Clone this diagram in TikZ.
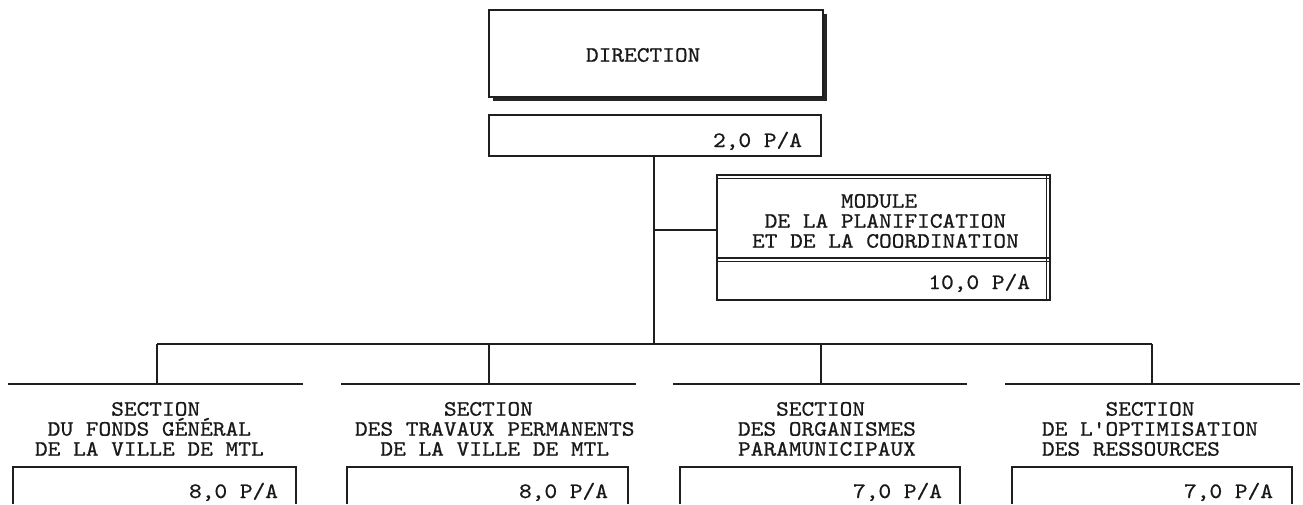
\documentclass[tikz,border=0pt]{standalone}
\usepackage{fontspec}
\newfontfamily\tw{lmmono10-regular}[Extension=.otf,FakeStretch=1.1,FakeBold=0.7]
\usetikzlibrary{shadows}
\begin{document}
\begin{tikzpicture}[x=1pt,y=-1pt,
  ink/.style={draw=black!88,line width=1.4pt},
  txt/.style={inner sep=0pt,outer sep=0pt,text=black!90,font=\tw\fontsize{22}{20}\selectfont},
  boxnode/.style={ink,fill=white,inner sep=0pt,outer sep=0pt,rectangle},
  secline/.style={draw=black!88,line width=2.4pt},
  conn/.style={draw=black!88,line width=1.4pt}]
\useasboundingbox (0,0) rectangle (1303,504);
\fill[white] (0,0) rectangle (1303,504);
% Direction
\node[boxnode,minimum width=334pt,minimum height=87pt,
  drop shadow={shadow xshift=4pt,shadow yshift=-4pt,fill=black!85,opacity=1}] (dir) at (656,53.5) {};
\node[txt,anchor=west] (dirt) at (586,55) {DIRECTION};
\node[boxnode,minimum width=332pt,minimum height=41pt] (dirv) at (655,135.5) {};
\node[txt,anchor=base east] (dirvt) at (802,147) {2,0 P/A};
% Module
\node[boxnode,minimum width=333pt,minimum height=125pt] (mod) at (883.5,237.5) {};
\draw[ink] (717,178.5) -- (1050,178.5);
\draw[ink] (717,175) -- (1050,175);
\draw[ink] (717,258) -- (1050,258);
\draw[ink] (717,261.5) -- (1050,261.5);
\draw[ink] (1046.5,175) -- (1046.5,300);
\node[txt,anchor=north west,align=left] (modt) at (752,194)
  {\hphantom{0000000}MODULE\\\hphantom{0}DE LA PLANIFICATION\\ET DE LA COORDINATION};
\node[txt,anchor=base east] (modv) at (1030,289) {10,0 P/A};
% trunk and bar
\coordinate (tk) at (654,344);
\coordinate (mb) at (717,230);
\draw[conn] (dirv.south -| tk) -- (tk);
\draw[conn] (tk |- mb) -- (mb);
\coordinate (b1) at (157,344);
\coordinate (b2) at (489,344);
\coordinate (b3) at (821,344);
\coordinate (b4) at (1152,344);
\draw[conn] (b1) -- (b4);
\coordinate (l1) at (157,384);
\coordinate (l2) at (489,384);
\coordinate (l3) at (821,384);
\coordinate (l4) at (1152,384);
\draw[conn] (b1) -- (l1);
\draw[conn] (b2) -- (l2);
\draw[conn] (b3) -- (l3);
\draw[conn] (b4) -- (l4);
\draw[secline] (8,384) -- (303,384);
\draw[secline] (341,384) -- (636,384);
\draw[secline] (673,384) -- (967,384);
\draw[secline] (1005,384) -- (1300,384);
% section titles
\node[txt,anchor=north west,align=left] (s1) at (35,402)
  {\hphantom{000000}SECTION\\\hphantom{0}DU FONDS GÉNÉRAL\\DE LA VILLE DE MTL};
\node[txt,anchor=north west,align=left] (s2) at (355,402)
  {\hphantom{0000000}SECTION\\DES TRAVAUX PERMANENTS\\\hphantom{00}DE LA VILLE DE MTL};
\node[txt,anchor=north west,align=left] (s3) at (738,402)
  {\hphantom{000}SECTION\\DES ORGANISMES\\PARAMUNICIPAUX};
\node[txt,anchor=north west,align=left] (s4) at (1042,402)
  {\hphantom{00000}SECTION\\DE L'OPTIMISATION\\DES RESSOURCES};
% value boxes (cut at bottom)
\draw[ink] (13,504) -- (13,467) -- (296,467) -- (296,504);
\draw[ink] (347,504) -- (347,467) -- (628,467) -- (628,504);
\draw[ink] (680,504) -- (680,467) -- (960,467) -- (960,504);
\draw[ink] (1012,504) -- (1012,467) -- (1292,467) -- (1292,504);
\node[txt,anchor=base east] (v1) at (278,498) {8,0 P/A};
\node[txt,anchor=base east] (v2) at (608,498) {8,0 P/A};
\node[txt,anchor=base east] (v3) at (942,498) {7,0 P/A};
\node[txt,anchor=base east] (v4) at (1273,498) {7,0 P/A};
\end{tikzpicture}
\end{document}
